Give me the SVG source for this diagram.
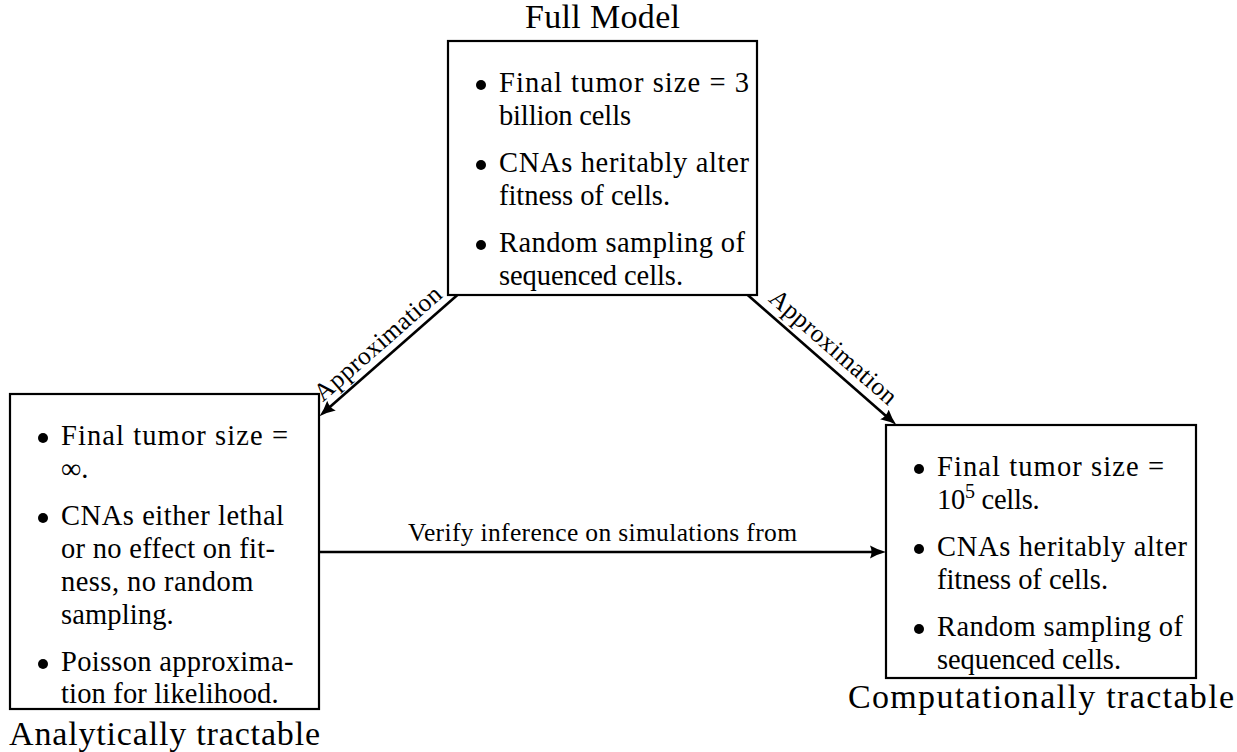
<svg xmlns="http://www.w3.org/2000/svg" width="1237" height="752" viewBox="0 0 1237 752">
<style>
.box{fill:#fff;stroke:#000;stroke-width:2.2}
.t{font-family:"Liberation Serif","Times New Roman",serif;font-size:28.5px;fill:#000}
.title{font-family:"Liberation Serif","Times New Roman",serif;font-size:34px;fill:#000;text-anchor:middle}
.lab{font-family:"Liberation Serif","Times New Roman",serif;font-size:25.5px;fill:#000;text-anchor:middle}
.edge{fill:none;stroke:#000;stroke-width:2.6;marker-end:url(#ah)}
.bul{fill:#000}
</style>
<defs>
<marker id="ah" markerUnits="userSpaceOnUse" markerWidth="18" markerHeight="14" refX="6" refY="7" orient="auto">
<path d="M16,7 Q8,9 0,13.5 Q3,7 0,0.5 Q8,5 16,7 Z" fill="#000"/>
</marker>
</defs>
<rect width="1237" height="752" fill="#fff"/>

<g id="connectors">
<line class="edge" x1="457.4" y1="295" x2="327" y2="409.6"/>
<line class="edge" x1="747.7" y1="295" x2="888.9" y2="418.4"/>
<line class="edge" x1="319" y1="552" x2="876" y2="552"/>
<text class="lab" transform="translate(388.5,355.6) rotate(-41.3)" x="0" y="-8" textLength="160.7">Approximation</text>
<text class="lab" transform="translate(822,360) rotate(41.2)" x="0" y="-9" textLength="160.7">Approximation</text>
<text class="lab" x="602.5" y="541" textLength="389">Verify inference on simulations from</text>
</g>

<g id="full-model">
<rect class="box" x="448" y="41" width="309" height="254"/>
<text class="title" x="602.5" y="28" textLength="155">Full Model</text>
<circle class="bul" cx="481" cy="85" r="5"/>
<text class="t" x="499" y="92" textLength="250">Final tumor size = 3</text>
<text class="t" x="499" y="125" textLength="132">billion cells</text>
<circle class="bul" cx="481" cy="165" r="5"/>
<text class="t" x="499" y="172" textLength="250">CNAs heritably alter</text>
<text class="t" x="499" y="205" textLength="171">fitness of cells.</text>
<circle class="bul" cx="481" cy="245" r="5"/>
<text class="t" x="499" y="252" textLength="246">Random sampling of</text>
<text class="t" x="499" y="285" textLength="184">sequenced cells.</text>
</g>

<g id="analytically-tractable">
<rect class="box" x="10" y="394" width="309" height="315"/>
<text class="title" x="164.5" y="745" textLength="311">Analytically tractable</text>
<circle class="bul" cx="43" cy="438" r="5"/>
<text class="t" x="61" y="445" textLength="227">Final tumor size =</text>
<text class="t" x="61" y="478">∞.</text>
<circle class="bul" cx="43" cy="518" r="5"/>
<text class="t" x="61" y="525" textLength="223">CNAs either lethal</text>
<text class="t" x="61" y="558" textLength="214">or no effect on fit-</text>
<text class="t" x="61" y="591" textLength="192.4">ness, no random</text>
<text class="t" x="61" y="624" textLength="112.7">sampling.</text>
<circle class="bul" cx="43" cy="664" r="5"/>
<text class="t" x="61" y="671" textLength="232.5">Poisson approxima-</text>
<text class="t" x="61" y="703" textLength="217.6">tion for likelihood.</text>
</g>

<g id="computationally-tractable">
<rect class="box" x="886" y="425" width="310" height="253"/>
<text class="title" x="1041" y="708" textLength="386">Computationally tractable</text>
<circle class="bul" cx="919" cy="469" r="5"/>
<text class="t" x="937" y="476" textLength="227">Final tumor size =</text>
<text class="t" x="937" y="509" textLength="102.6">10<tspan dy="-11" font-size="20">5</tspan><tspan dy="11"> cells.</tspan></text>
<circle class="bul" cx="919" cy="549" r="5"/>
<text class="t" x="937" y="556" textLength="250">CNAs heritably alter</text>
<text class="t" x="937" y="589" textLength="171">fitness of cells.</text>
<circle class="bul" cx="919" cy="629" r="5"/>
<text class="t" x="937" y="636" textLength="246">Random sampling of</text>
<text class="t" x="937" y="669" textLength="184">sequenced cells.</text>
</g>
</svg>
